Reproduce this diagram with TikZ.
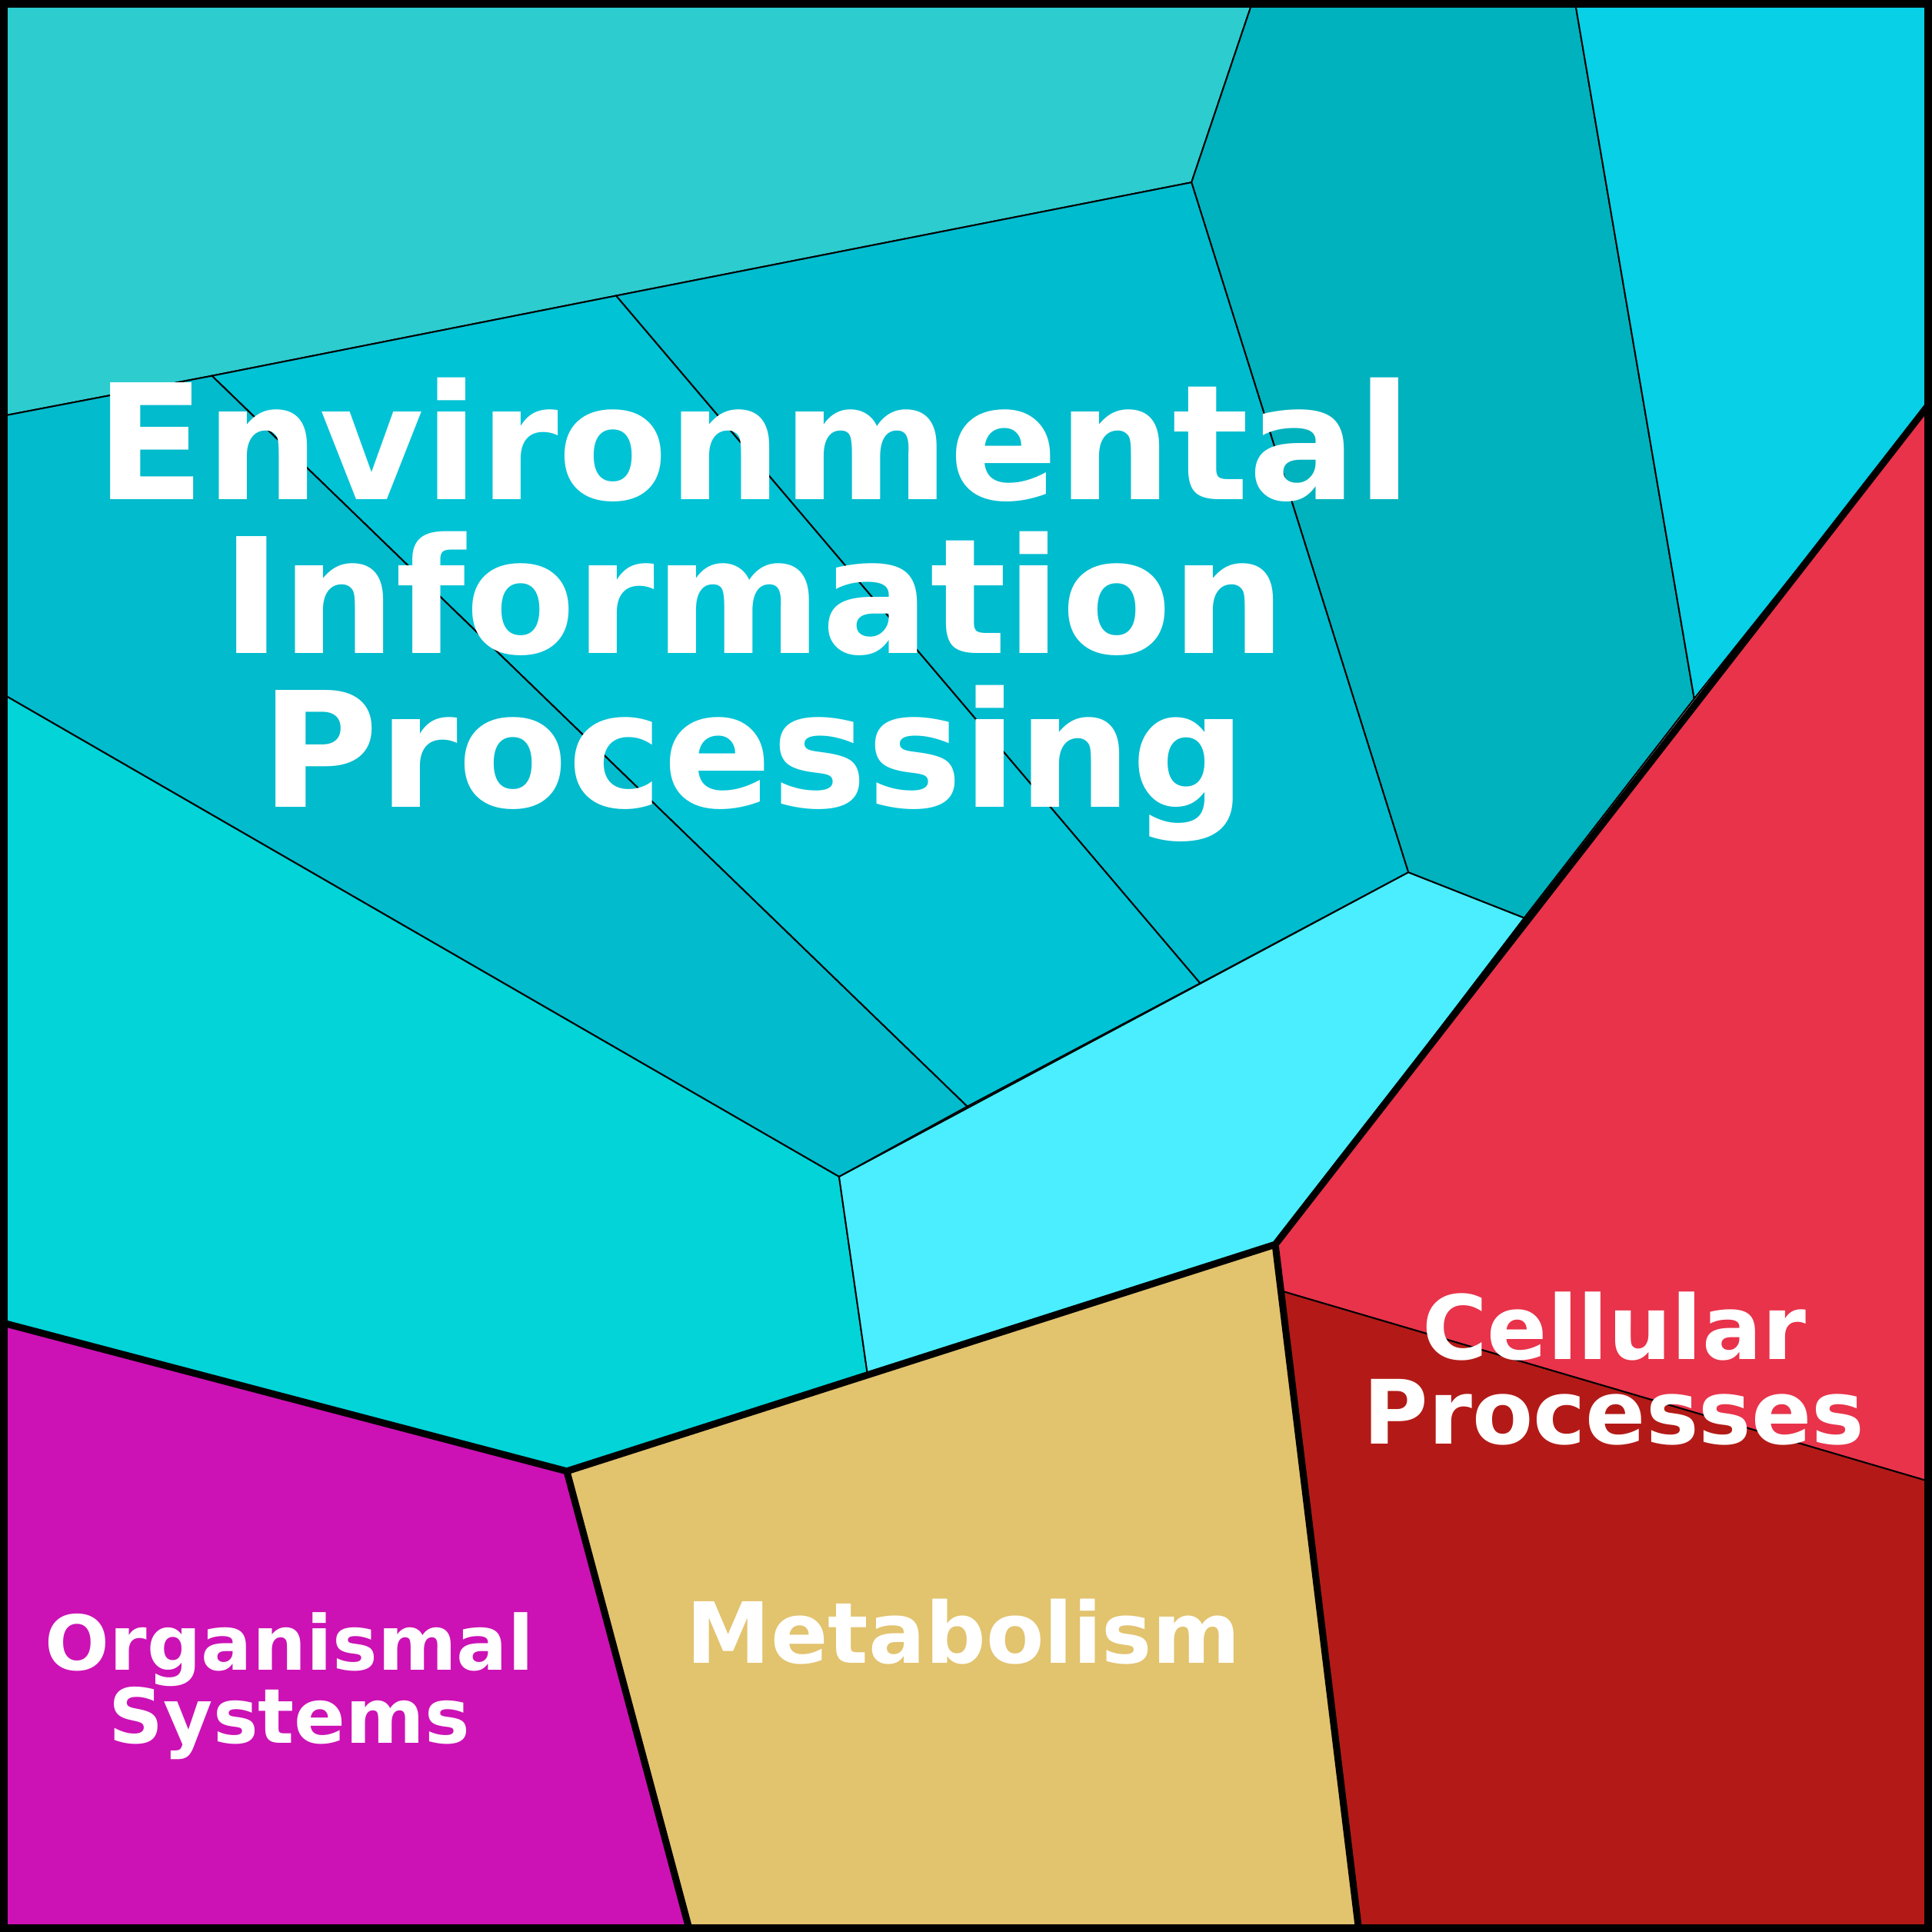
\documentclass[tikz,border=0pt]{standalone}
\usepackage{fontspec}
\setmainfont{DejaVu Sans}
\begin{document}
\begin{tikzpicture}[x=0.01cm,y=-0.01cm,
  thin/.style={draw=black,line width=0.35pt},
  thick/.style={draw=black,line width=1.6pt},
  lab/.style={text=white,font=\bfseries,align=center,inner sep=0pt}]
\useasboundingbox (0,0) rectangle (1568,1568);
\definecolor{cA}{HTML}{2CCCCF}\definecolor{cB}{HTML}{00B2BD}\definecolor{cC}{HTML}{08D0E6}
\definecolor{cD}{HTML}{00BCCF}\definecolor{cE}{HTML}{00C3D5}\definecolor{cF}{HTML}{02BBCD}
\definecolor{cG}{HTML}{02D4D8}\definecolor{cH}{HTML}{4AEEFF}\definecolor{cR}{HTML}{E8334A}
\definecolor{cS}{HTML}{B31A17}\definecolor{cM}{HTML}{E2C36E}\definecolor{cO}{HTML}{CC12B4}
\fill[cA,thin] (0,0)--(1017,0)--(967,148)--(500,240)--(172,305)--(0,338)--cycle;
\fill[cB,thin] (1017,0)--(1278,0)--(1375,567)--(1237,745)--(1143,708)--(967,148)--cycle;
\fill[cC,thin] (1278,0)--(1568,0)--(1568,325)--(1375,567)--cycle;
\fill[cD,thin] (500,240)--(967,148)--(1143,708)--(974,798)--cycle;
\fill[cE,thin] (172,305)--(500,240)--(974,798)--(785,898)--cycle;
\fill[cF,thin] (0,338)--(172,305)--(785,898)--(681,955)--(0,562)--cycle;
\fill[cG,thin] (0,562)--(681,955)--(704,1115)--(460,1194)--(0,1073)--cycle;
\fill[cH,thin] (681,955)--(1143,708)--(1237,745)--(1035,1010)--(704,1115)--cycle;
\fill[cR,thin] (1568,325)--(1568,1203)--(1041,1048)--(1035,1010)--cycle;
\fill[cS,thin] (1041,1048)--(1568,1203)--(1568,1568)--(1103,1568)--cycle;
\fill[cM] (460,1194)--(1035,1010)--(1103,1568)--(560,1568)--cycle;
\fill[cO] (0,1073)--(460,1194)--(560,1568)--(0,1568)--cycle;
\draw[thick] (0,1073)--(460,1194)--(1035,1010)--(1568,325);
\draw[thick] (460,1194)--(560,1568);
\draw[thick] (1035,1010)--(1103,1568);
\draw[line width=3.4pt] (0,0) rectangle (1568,1568);
\node[lab,font=\bfseries\fontsize{37}{35.5}\selectfont,anchor=base] (env) at (612,655) {Environmental\\Information\\Processing};
\node[lab,font=\bfseries\fontsize{20.5}{19.6}\selectfont,anchor=base] (cel) at (1310,1172) {Cellular\\Processes};
\node[lab,font=\bfseries\fontsize{19.5}{19}\selectfont,anchor=base] (met) at (782,1350) {Metabolism};
\node[lab,font=\bfseries\fontsize{17.5}{17}\selectfont,anchor=base] (org) at (235,1415) {Organismal\\Systems};
\end{tikzpicture}
\end{document}
